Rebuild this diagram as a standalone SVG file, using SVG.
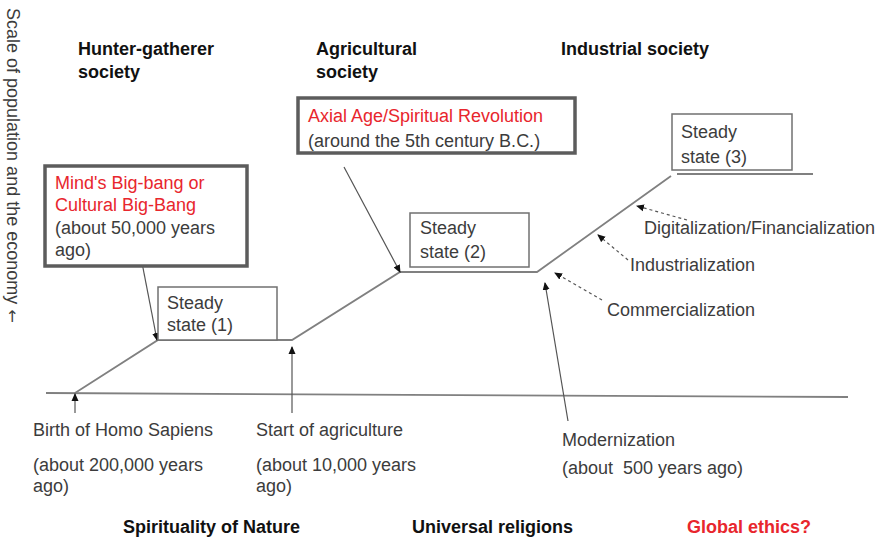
<svg xmlns="http://www.w3.org/2000/svg" width="881" height="541" viewBox="0 0 881 541">
<style>
text{font-family:"Liberation Sans",Arial,sans-serif;font-size:18px;fill:#3c3c3c}
.b{font-weight:bold;fill:#111}
.r{fill:#e8262d}
.rb{font-weight:bold;fill:#e8262d}
.thick{fill:#fff;stroke:#5c5c5c;stroke-width:3.5}
.thin{fill:#fff;stroke:#707070;stroke-width:1.5}
.ln{fill:none;stroke:#808080;stroke-width:1.8}
.ar{fill:none;stroke:#555;stroke-width:1.2;marker-end:url(#ah)}
.da{fill:none;stroke:#555;stroke-width:1.2;stroke-dasharray:3 3;marker-end:url(#ah)}
</style>
<defs>
<marker id="ah" markerWidth="8" markerHeight="8" refX="7" refY="4" orient="auto" markerUnits="userSpaceOnUse">
<path d="M0,0.5 L8,4 L0,7.5 Z" fill="#111"/>
</marker>
</defs>
<rect width="881" height="541" fill="#fff"/>

<text transform="translate(7,8) rotate(90)">Scale of population and the economy <tspan style="font-family:'DejaVu Sans',sans-serif;font-size:16px">←</tspan></text>

<g id="connectors">
<path class="ln" d="M46,393 L848,397"/>
<path class="ln" d="M75,393 L158,340 L292,340 L400,272 L537,272 L671,176"/>
<path class="ln" d="M677,174 L813,174"/>
<path class="ar" d="M137,237 L157,340"/>
<path class="ar" d="M344,167 L400,272"/>
<path class="ar" d="M75,413 L75,394"/>
<path class="ar" d="M292,413 L292,347"/>
<path class="ar" d="M568,421 L545,283"/>
<path class="da" d="M602,300 L555,273"/>
<path class="da" d="M628,260 L598,235"/>
<path class="da" d="M687,220 L637,206"/>
</g>

<g id="hunter-label"><text class="b" x="78" y="55">Hunter-gatherer</text><text class="b" x="78" y="78">society</text></g>
<g id="agri-label"><text class="b" x="316" y="55">Agricultural</text><text class="b" x="316" y="78">society</text></g>
<g id="industrial-label"><text class="b" x="561" y="55">Industrial society</text></g>

<g id="minds-bigbang">
<rect class="thick" x="45" y="166" width="202" height="100"/>
<text class="r" x="55" y="189">Mind's Big-bang or</text>
<text class="r" x="55" y="211">Cultural Big-Bang</text>
<text x="55" y="234">(about 50,000 years</text>
<text x="55" y="256">ago)</text>
</g>

<g id="axial-age">
<rect class="thick" x="298" y="98" width="277" height="55"/>
<text class="r" x="308" y="122">Axial Age/Spiritual Revolution</text>
<text x="308" y="147">(around the 5th century B.C.)</text>
</g>

<g id="steady1">
<rect class="thin" x="158" y="287" width="119" height="53"/>
<text x="167" y="309">Steady</text>
<text x="167" y="331">state (1)</text>
</g>

<g id="steady2">
<rect class="thin" x="410" y="213" width="119" height="54"/>
<text x="420" y="234">Steady</text>
<text x="420" y="258">state (2)</text>
</g>

<g id="steady3">
<rect class="thin" x="672" y="114" width="120" height="56"/>
<text x="681" y="138">Steady</text>
<text x="681" y="163">state (3)</text>
</g>

<g id="digitalization"><text x="644" y="234">Digitalization/Financialization</text></g>
<g id="industrialization"><text x="630" y="271">Industrialization</text></g>
<g id="commercialization"><text x="607" y="316">Commercialization</text></g>

<g id="birth">
<text x="33" y="436">Birth of Homo Sapiens</text>
<text x="33" y="471">(about 200,000 years</text>
<text x="33" y="492">ago)</text>
</g>
<g id="start-agriculture">
<text x="256" y="436">Start of agriculture</text>
<text x="256" y="471">(about 10,000 years</text>
<text x="256" y="492">ago)</text>
</g>
<g id="modernization">
<text x="562" y="446">Modernization</text>
<text x="562" y="474" xml:space="preserve">(about  500 years ago)</text>
</g>

<g id="spirituality"><text class="b" x="123" y="533">Spirituality of Nature</text></g>
<g id="universal"><text class="b" x="412" y="533">Universal religions</text></g>
<g id="global"><text class="rb" x="687" y="533">Global ethics?</text></g>
</svg>
